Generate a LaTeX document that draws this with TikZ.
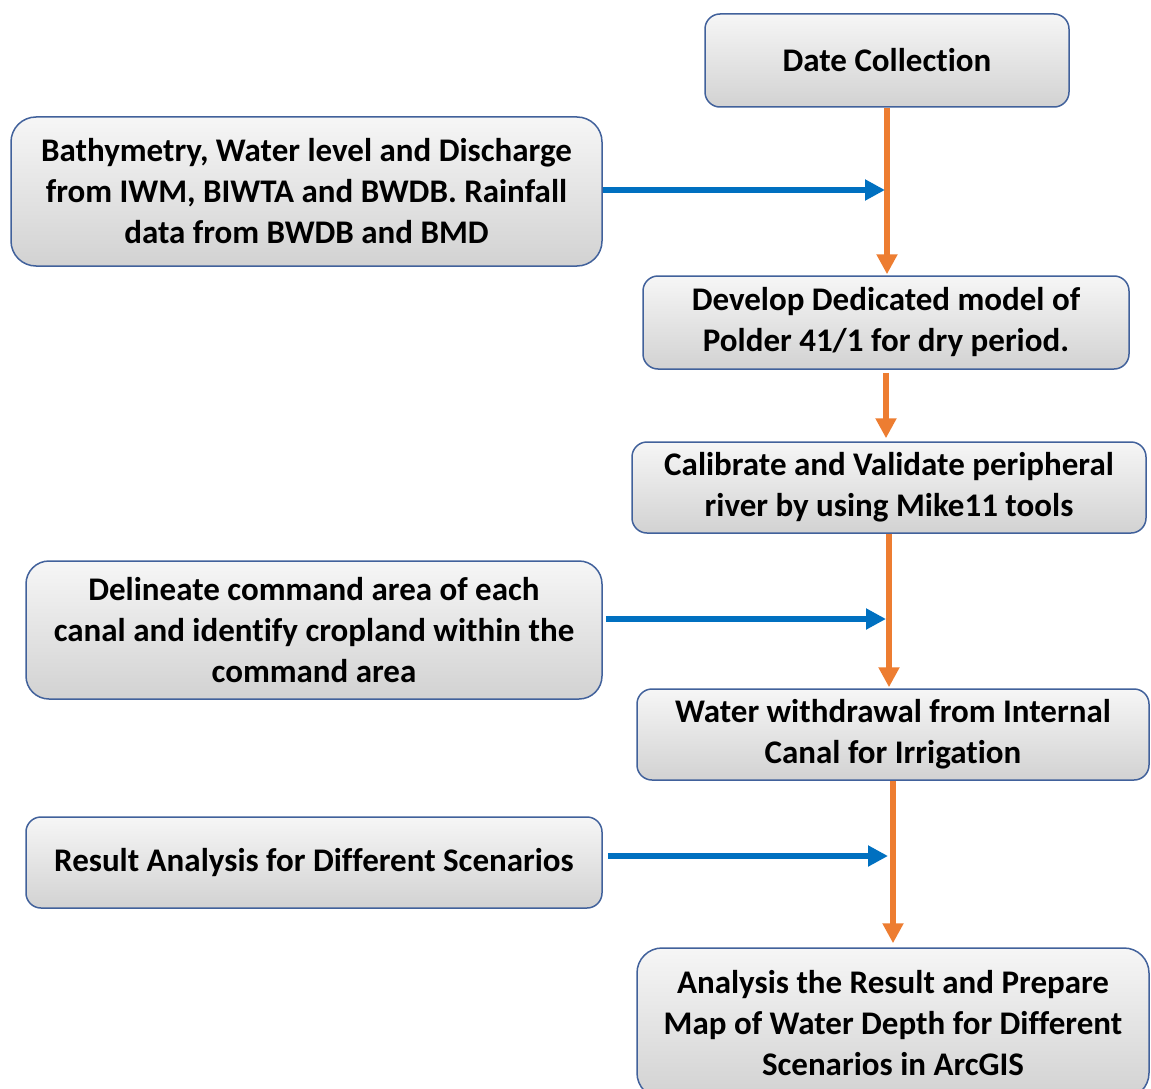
\documentclass[tikz,border=0pt]{standalone}
\usepackage{fontspec}
\setmainfont{Carlito}[RawFeature={-liga}]
\usetikzlibrary{arrows.meta,calc}
\definecolor{bordc}{HTML}{41619B}
\definecolor{orng}{HTML}{ED7D31}
\definecolor{blu}{HTML}{0070C0}
\definecolor{gtop}{HTML}{F6F6F6}
\definecolor{gbot}{HTML}{D2D2D2}
\begin{document}
\begin{tikzpicture}[x=1pt,y=-1pt,
  box/.style={draw=bordc, line width=1.5pt, top color=gtop, bottom color=gbot,
    align=center, font=\fontsize{33}{41}\selectfont\bfseries, inner sep=0pt},
  oarr/.style={draw=orng, line width=6pt, -{Triangle[length=20pt,width=20pt]}},
  barr/.style={draw=blu, line width=6pt, -{Triangle[length=20pt,width=20pt]}}]
\useasboundingbox (0,0) rectangle (1151,1089);
\fill[white] (0,0) rectangle (1151,1089);

\node[box, minimum width=364pt, minimum height=93pt, rounded corners=15pt] (dc) at (887,60.5) {Date Collection};
\node[box, minimum width=591pt, minimum height=149pt, rounded corners=25pt] (bath) at (306.5,191.5)
  {Bathymetry, Water level and Discharge\\from IWM, BIWTA and BWDB. Rainfall\\data from BWDB and BMD};
\node[box, minimum width=486pt, minimum height=93pt, rounded corners=15pt] (dev) at (886,322.5)
  {Develop Dedicated model of\\Polder 41/1 for dry period.};
\node[box, minimum width=514pt, minimum height=91pt, rounded corners=15pt] (cal) at (889,487.5)
  {Calibrate and Validate peripheral\\river by using Mike11 tools};
\node[box, minimum width=576pt, minimum height=138pt, rounded corners=23pt] (del) at (314,630)
  {Delineate command area of each\\canal and identify cropland within the\\command area};
\node[box, minimum width=512pt, minimum height=91pt, rounded corners=15pt] (wat) at (893,734.5)
  {Water withdrawal from Internal\\Canal for Irrigation};
\node[box, minimum width=576pt, minimum height=91pt, rounded corners=15pt] (res) at (314,862.5)
  {Result Analysis for Different Scenarios};
\node[box, minimum width=512pt, minimum height=150pt, rounded corners=25pt] (ana) at (893,1023)
  {Analysis the Result and Prepare\\Map of Water Depth for Different\\Scenarios in ArcGIS};

\draw[oarr, shorten >=1pt] (dc.south) -- (dc.south |- dev.north);
\draw[oarr, shorten >=3pt] ($(dev.south)+(0,3)$) -- (dev.south |- cal.north);
\draw[oarr, shorten >=1pt] (cal.south) -- (cal.south |- wat.north);
\draw[oarr, shorten >=4pt] (wat.south) -- (wat.south |- ana.north);

\draw[barr, shorten >=2pt] ($(bath.east)+(0,-1.5)$) coordinate (b1) -- (b1 -| dc.south);
\draw[barr, shorten >=3pt] ($(del.east)+(3,-11)$) coordinate (b2) -- (b2 -| cal.south);
\draw[barr, shorten >=5pt] ($(res.east)+(5,-6.5)$) coordinate (b3) -- (b3 -| wat.south);
\end{tikzpicture}
\end{document}
